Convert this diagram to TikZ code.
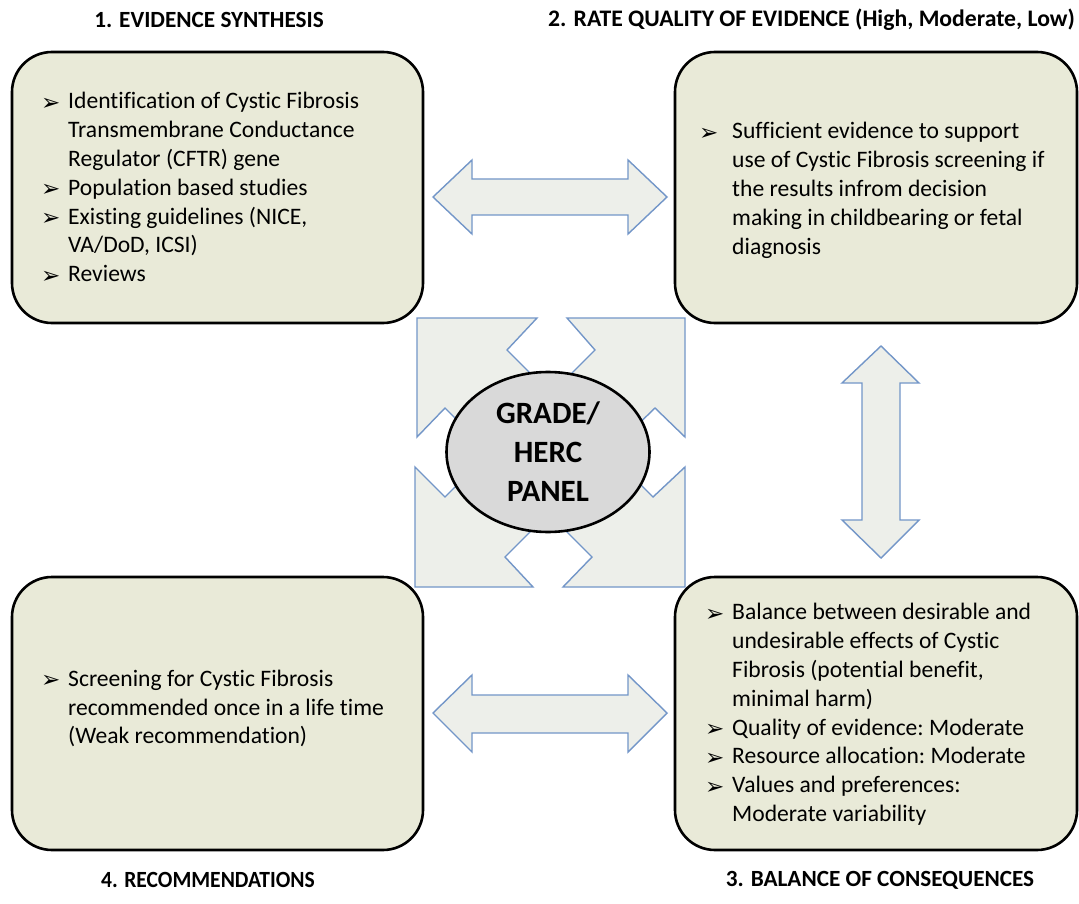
\documentclass[tikz,border=0pt]{standalone}
\usepackage{fontspec}
\setmainfont{Carlito}[Ligatures=NoCommon]
\newfontfamily\bulfont{DejaVu Sans}
\usetikzlibrary{shapes.geometric}
\definecolor{boxfill}{HTML}{E9EAD8}
\definecolor{arrfill}{HTML}{EDEFEA}
\definecolor{arrline}{HTML}{7396C8}
\definecolor{panelfill}{HTML}{D9D9D9}
\newcommand{\bul}{\smash{\raisebox{-1.5pt}{\bulfont\fontsize{23}{23}\selectfont ➢}}}
\tikzset{
  stagebox/.style={draw=black, line width=2.6pt, fill=boxfill, rounded corners=40pt, inner sep=0pt},
  bodytext/.style={anchor=north west, inner sep=0pt, font=\frenchspacing\fontsize{23.6}{28.8}\selectfont},
  titletext/.style={inner sep=0pt, font=\bfseries\fontsize{23.2}{28}\selectfont},
  blockarrow/.style={fill=arrfill, draw=arrline, line width=1.4pt, line join=miter},
  panel/.style={ellipse, draw=black, line width=2.6pt, fill=panelfill, inner sep=0pt,
    minimum width=203pt, minimum height=160pt, align=center,
    font=\bfseries\fontsize{31}{39}\selectfont}
}
\begin{document}
\begin{tikzpicture}[x=1pt,y=-1pt]
\useasboundingbox (0,0) rectangle (1079,904);
\fill[white] (0,0) rectangle (1079,904);

% titles
\node[titletext] (h1) at (209,20) {1. EVIDENCE SYNTHESIS};
\node[titletext, anchor=west, font=\bfseries\fontsize{23.7}{28}\selectfont] (h2) at (548,20) {2. RATE QUALITY OF EVIDENCE (High, Moderate, Low)};
\node[titletext] (h4) at (208,880) {\scalebox{0.93}[1]{4. RECOMMENDATIONS}};
\node[titletext] (h3) at (880,880) {3. BALANCE OF CONSEQUENCES};

% boxes
\node[stagebox, minimum width=411pt, minimum height=271pt] (b1) at (217.5,187.5) {};
\node[stagebox, minimum width=402pt, minimum height=271pt] (b2) at (876,187.5) {};
\node[stagebox, minimum width=402pt, minimum height=273pt] (b3) at (876,713.5) {};
\node[stagebox, minimum width=411pt, minimum height=273pt] (b4) at (217.5,713.5) {};

% box texts
\node[bodytext] (t1) at (41,88.5) {\begin{tabular}{@{}p{27pt}@{}l@{}}
\bul & Identification of Cystic Fibrosis\\
 & Transmembrane Conductance\\
 & Regulator (CFTR) gene\\
\bul & Population based studies\\
\bul & Existing guidelines (NICE,\\
 & VA/DoD, ICSI)\\
\bul & Reviews
\end{tabular}};

\node[bodytext] (t2) at (699,118.5) {\begin{tabular}{@{}p{33pt}@{}l@{}}
\bul & Sufficient evidence to support\\
 & use of Cystic Fibrosis screening if\\
 & the results infrom decision\\
 & making in childbearing or fetal\\
 & diagnosis
\end{tabular}};

\node[bodytext] (t3) at (705,599.5) {\begin{tabular}{@{}p{27pt}@{}l@{}}
\bul & Balance between desirable and\\
 & undesirable effects of Cystic\\
 & Fibrosis (potential benefit,\\
 & minimal harm)\\
\bul & Quality of evidence: Moderate\\
\bul & Resource allocation: Moderate\\
\bul & Values and preferences:\\
 & Moderate variability
\end{tabular}};

\node[bodytext] (t4) at (41,666) {\begin{tabular}{@{}p{27pt}@{}l@{}}
\bul & Screening for Cystic Fibrosis\\
 & recommended once in a life time\\
 & (Weak recommendation)
\end{tabular}};

% double arrows between boxes
\draw[blockarrow] (433,197) -- (472,160) -- (472,179) -- (628,179) -- (628,160) -- (667,197)
  -- (628,234) -- (628,215) -- (472,215) -- (472,234) -- cycle;
\draw[blockarrow] (433,713) -- (472,675) -- (472,695) -- (628,695) -- (628,675) -- (667,713)
  -- (628,752) -- (628,733) -- (472,733) -- (472,752) -- cycle;
\draw[blockarrow] (881,346) -- (919,383) -- (900,383) -- (900,520) -- (919,520) -- (881,558)
  -- (842,520) -- (862,520) -- (862,383) -- (842,383) -- cycle;

% diagonal arrows around the panel
\draw[blockarrow] (417,318) -- (537,318) -- (507,350) -- (567,410) -- (507,470) -- (445,408) -- (417,437) -- cycle;
\draw[blockarrow] (685,318) -- (685,437) -- (655,408) -- (593,468) -- (535,410) -- (595,350) -- (567,318) -- cycle;
\draw[blockarrow] (415,587) -- (415,467) -- (445,497) -- (505,437) -- (565,497) -- (505,557) -- (533,587) -- cycle;
\draw[blockarrow] (685,587) -- (563,587) -- (592,557) -- (532,497) -- (593,437) -- (653,497) -- (685,467) -- cycle;

% centre panel
\node[panel] (p) at (548,452) {GRADE/\\HERC\\PANEL};
\end{tikzpicture}
\end{document}
